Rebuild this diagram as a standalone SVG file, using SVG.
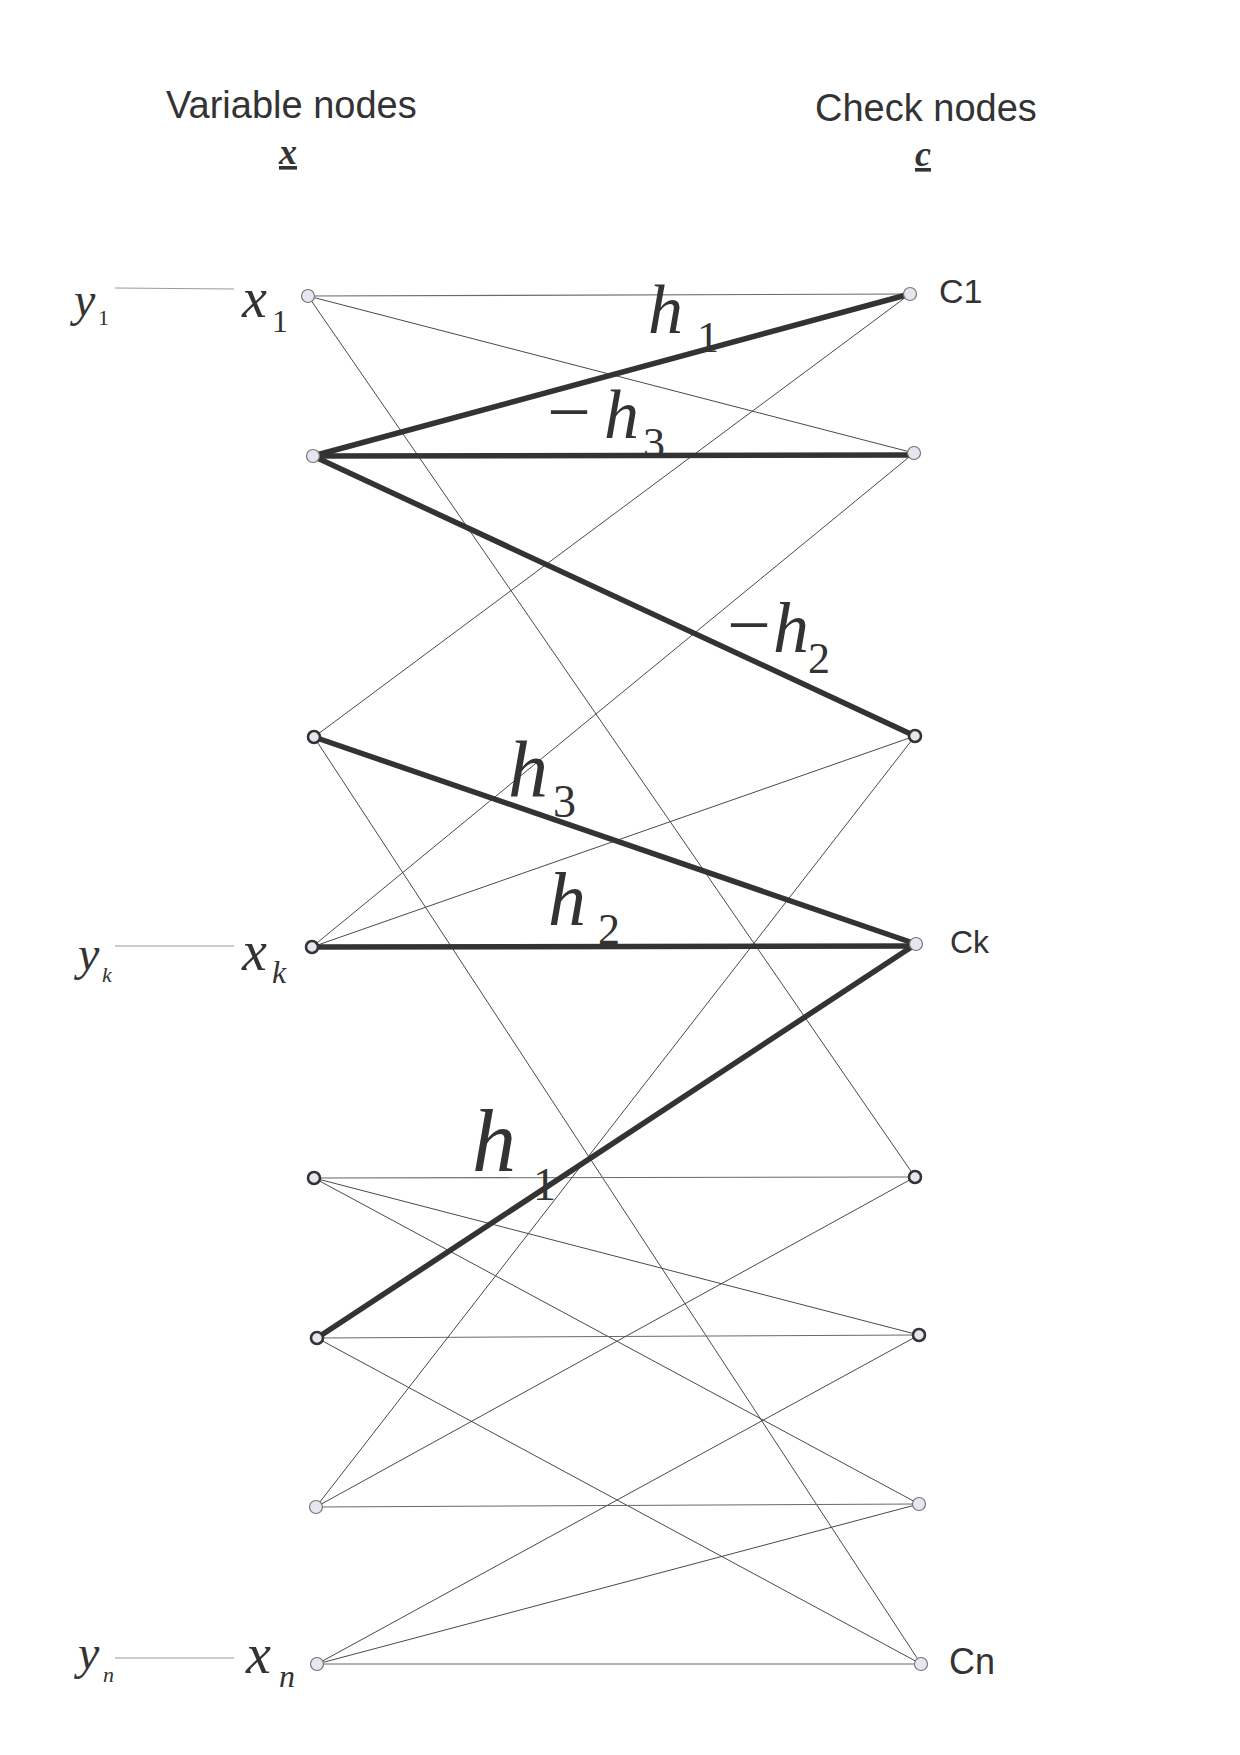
<svg xmlns="http://www.w3.org/2000/svg" width="1240" height="1755" viewBox="0 0 1240 1755">
<style>
.bg{fill:#ffffff}
.thin{stroke:#4a4a4a;stroke-width:1;fill:none}
.hz{stroke:#6a6a6a;stroke-width:1.1;fill:none}
.thick{stroke:#333333;stroke-width:5.5;fill:none;stroke-linecap:round}
.yl{stroke:#9a9a9a;stroke-width:1.2}
.nl{fill:#e6e6f0;stroke:#777777;stroke-width:1.2}
.nd{fill:#e6e6f0;stroke:#333333;stroke-width:2.6}
.hd{font-family:"Liberation Sans",Arial,sans-serif;font-size:38px;fill:#333333}
.cl{font-family:"Liberation Sans",Arial,sans-serif;fill:#333333}
.it{font-family:"Liberation Serif","Times New Roman",serif;font-style:italic;fill:#333333}
.up{font-family:"Liberation Serif","Times New Roman",serif;fill:#333333}
.bi{font-family:"Liberation Serif","Times New Roman",serif;font-style:italic;font-weight:bold;fill:#333333;text-decoration:underline}
</style>
<rect class="bg" x="0" y="0" width="1240" height="1755"/>

<g id="headers">
<text class="hd" x="166" y="118">Variable nodes</text>
<text class="hd" x="815" y="121">Check nodes</text>
<text class="bi" x="279" y="164" font-size="36">x</text>
<text class="bi" x="915" y="166" font-size="36">c</text>
</g>

<g id="inputs">
<line class="yl" x1="115" y1="288" x2="234" y2="289"/>
<line class="yl" x1="115" y1="946" x2="234" y2="946"/>
<line class="yl" x1="115" y1="1658" x2="234" y2="1658"/>
<text class="it" x="74" y="316" font-size="48">y</text><text class="up" x="98" y="325" font-size="22">1</text>
<text class="it" x="78" y="970" font-size="48">y</text><text class="it" x="102" y="982" font-size="22">k</text>
<text class="it" x="78" y="1669" font-size="48">y</text><text class="it" x="103" y="1682" font-size="22">n</text>
</g>

<g id="connectors">
<line class="hz" x1="308" y1="296" x2="910" y2="294"/>
<line class="thin" x1="308" y1="296" x2="914" y2="453"/>
<line class="thin" x1="308" y1="296" x2="915" y2="1177"/>
<line class="thin" x1="314" y1="737" x2="910" y2="294"/>
<line class="thin" x1="314" y1="737" x2="921" y2="1664"/>
<line class="thin" x1="312" y1="947" x2="914" y2="453"/>
<line class="thin" x1="312" y1="947" x2="915" y2="736"/>
<line class="hz" x1="314" y1="1178" x2="915" y2="1177"/>
<line class="thin" x1="314" y1="1178" x2="919" y2="1335"/>
<line class="thin" x1="314" y1="1178" x2="919" y2="1504"/>
<line class="hz" x1="317" y1="1338" x2="919" y2="1335"/>
<line class="thin" x1="317" y1="1338" x2="921" y2="1664"/>
<line class="hz" x1="316" y1="1507" x2="919" y2="1504"/>
<line class="thin" x1="316" y1="1507" x2="915" y2="736"/>
<line class="thin" x1="316" y1="1507" x2="915" y2="1177"/>
<line class="hz" x1="317" y1="1664" x2="921" y2="1664"/>
<line class="thin" x1="317" y1="1664" x2="919" y2="1335"/>
<line class="thin" x1="317" y1="1664" x2="919" y2="1504"/>
<line class="thick" x1="313" y1="456" x2="910" y2="294"/>
<line class="thick" x1="313" y1="456" x2="914" y2="455"/>
<line class="thick" x1="313" y1="456" x2="915" y2="736"/>
<line class="thick" x1="314" y1="737" x2="916" y2="944"/>
<line class="thick" x1="312" y1="947" x2="916" y2="946"/>
<line class="thick" x1="317" y1="1338" x2="916" y2="944"/>
</g>

<g id="edge-labels">
<text class="it" x="648" y="333" font-size="70">h</text><text class="up" x="697" y="352" font-size="44">1</text>
<text class="up" x="547" y="438" font-size="78">−</text><text class="it" x="604" y="438" font-size="70">h</text><text class="up" x="643" y="458" font-size="44">3</text>
<text class="up" x="727" y="651" font-size="78">−</text><text class="it" x="773" y="652" font-size="72">h</text><text class="up" x="808" y="673" font-size="44">2</text>
<text class="it" x="508" y="796" font-size="80">h</text><text class="up" x="553" y="817" font-size="46">3</text>
<text class="it" x="548" y="925" font-size="76">h</text><text class="up" x="598" y="944" font-size="44">2</text>
<text class="it" x="472" y="1171" font-size="88">h</text><text class="up" x="533" y="1200" font-size="46">1</text>
</g>

<g id="var1"><circle class="nl" cx="308" cy="296" r="6.5"/><text class="it" x="242" y="317" font-size="56">x</text><text class="up" x="272" y="332" font-size="32">1</text></g>
<g id="var2"><circle class="nl" cx="313" cy="456" r="6.5"/></g>
<g id="var3"><circle class="nd" cx="314" cy="737" r="6"/></g>
<g id="var4"><circle class="nd" cx="312" cy="947" r="6"/><text class="it" x="242" y="970" font-size="56">x</text><text class="it" x="272" y="983" font-size="32">k</text></g>
<g id="var5"><circle class="nd" cx="314" cy="1178" r="6"/></g>
<g id="var6"><circle class="nd" cx="317" cy="1338" r="6"/></g>
<g id="var7"><circle class="nl" cx="316" cy="1507" r="6.5"/></g>
<g id="var8"><circle class="nl" cx="317" cy="1664" r="6.5"/><text class="it" x="246" y="1673" font-size="56">x</text><text class="it" x="279" y="1687" font-size="32">n</text></g>

<g id="chk1"><circle class="nl" cx="910" cy="294" r="6.5"/><text class="cl" x="939" y="303" font-size="34">C1</text></g>
<g id="chk2"><circle class="nl" cx="914" cy="453" r="6.5"/></g>
<g id="chk3"><circle class="nd" cx="915" cy="736" r="6"/></g>
<g id="chk4"><circle class="nl" cx="916" cy="944" r="6.5"/><text class="cl" x="950" y="953" font-size="32">Ck</text></g>
<g id="chk5"><circle class="nd" cx="915" cy="1177" r="6"/></g>
<g id="chk6"><circle class="nd" cx="919" cy="1335" r="6"/></g>
<g id="chk7"><circle class="nl" cx="919" cy="1504" r="6.5"/></g>
<g id="chk8"><circle class="nl" cx="921" cy="1664" r="6.5"/><text class="cl" x="949" y="1674" font-size="36">Cn</text></g>
</svg>
